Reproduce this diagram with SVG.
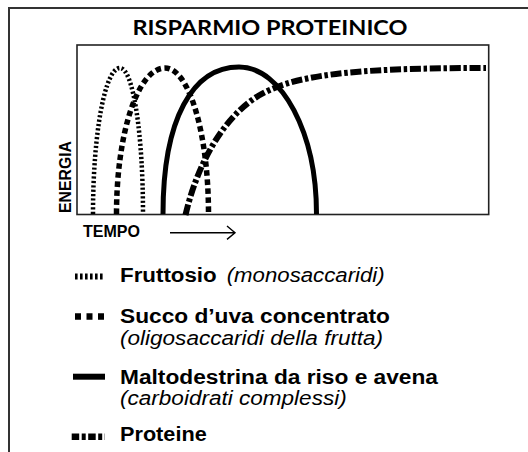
<svg xmlns="http://www.w3.org/2000/svg" width="528" height="452" viewBox="0 0 528 452">
<style>
.frame{fill:none;stroke:#333;stroke-width:2}
.box{fill:none;stroke:#222;stroke-width:1.6}
.c{fill:none;stroke:#000;stroke-linecap:butt}
.fr{stroke-width:4.5;stroke-dasharray:2.2 2.2}
.su{stroke-width:5.5;stroke-dasharray:5.5 3.5}
.ma{stroke-width:5}
.pr{stroke-width:6;stroke-dasharray:11 2.7 3.5 2.7}
.lb{font-family:"Liberation Sans",Arial,sans-serif;font-weight:bold;font-size:20px;fill:#000}
.li{font-family:"Liberation Sans",Arial,sans-serif;font-style:italic;font-size:20px;fill:#000}
.ax{font-family:"Liberation Sans",Arial,sans-serif;font-weight:bold;fill:#000}
.title{font-family:Lato,"Open Sans",sans-serif;font-weight:bold;font-size:21px;fill:#000}
</style>
<rect width="528" height="452" fill="#fff"/>
<path class="frame" d="M9,452 V8 H528"/>
<g id="title"><text class="title" x="132.5" y="35" textLength="275" lengthAdjust="spacingAndGlyphs">RISPARMIO PROTEINICO</text></g>
<g id="chart">
<rect class="box" x="77" y="45" width="411.7" height="169.5"/>
<text class="ax" font-size="16.5" transform="translate(70.5,213) rotate(-90)" textLength="72" lengthAdjust="spacingAndGlyphs">ENERGIA</text>
<text class="ax" font-size="17" x="83" y="236.5" textLength="57" lengthAdjust="spacingAndGlyphs">TEMPO</text>
<path d="M170,232.7 H235 M227,226 L235,232.7 L227,239.4" fill="none" stroke="#000" stroke-width="1.4"/>
</g>
<g id="connectors">
<path id="curve-fruttosio" class="c fr" d="M93,214 C93,133 105,68 120,68 C133,68 143,133 143,214"/>
<path id="curve-succo" class="c su" d="M116.5,214 C116.5,133 138,68 165,68 C189,68 208.5,133 208.5,214"/>
<path id="curve-malto" class="c ma" d="M163,214 C163,118 193,67 239,67 C282,67 316.5,133 316.5,214"/>
<path id="curve-proteine" class="c pr" d="M185.5,215 C194,178 215,125 255,98 C290,75 350,68 486,68"/>
</g>
<g id="legend-fruttosio">
<line class="c" x1="75" y1="276.5" x2="105" y2="276.5" stroke-width="6" stroke-dasharray="2.6 2.4"/>
<text class="lb" x="120" y="282" textLength="96.7" lengthAdjust="spacingAndGlyphs">Fruttosio</text>
<text class="li" x="226.7" y="282" textLength="158" lengthAdjust="spacingAndGlyphs">(monosaccaridi)</text>
</g>
<g id="legend-succo">
<line class="c" x1="75" y1="316.5" x2="105" y2="316.5" stroke-width="6.5" stroke-dasharray="6 5.5"/>
<text class="lb" x="120" y="323" textLength="270" lengthAdjust="spacingAndGlyphs">Succo d’uva concentrato</text>
<text class="li" x="120" y="344.5" textLength="263" lengthAdjust="spacingAndGlyphs">(oligosaccaridi della frutta)</text>
</g>
<g id="legend-malto">
<line class="c" x1="73" y1="376.7" x2="105" y2="376.7" stroke-width="6"/>
<text class="lb" x="120" y="383.5" textLength="318" lengthAdjust="spacingAndGlyphs">Maltodestrina da riso e avena</text>
<text class="li" x="120" y="405" textLength="226.7" lengthAdjust="spacingAndGlyphs">(carboidrati complessi)</text>
</g>
<g id="legend-proteine">
<line class="c" x1="71.7" y1="436.7" x2="105" y2="436.7" stroke-width="6.5" stroke-dasharray="7.5 2.5 4 2.5"/>
<text class="lb" x="120" y="441" textLength="86.7" lengthAdjust="spacingAndGlyphs">Proteine</text>
</g>
</svg>
